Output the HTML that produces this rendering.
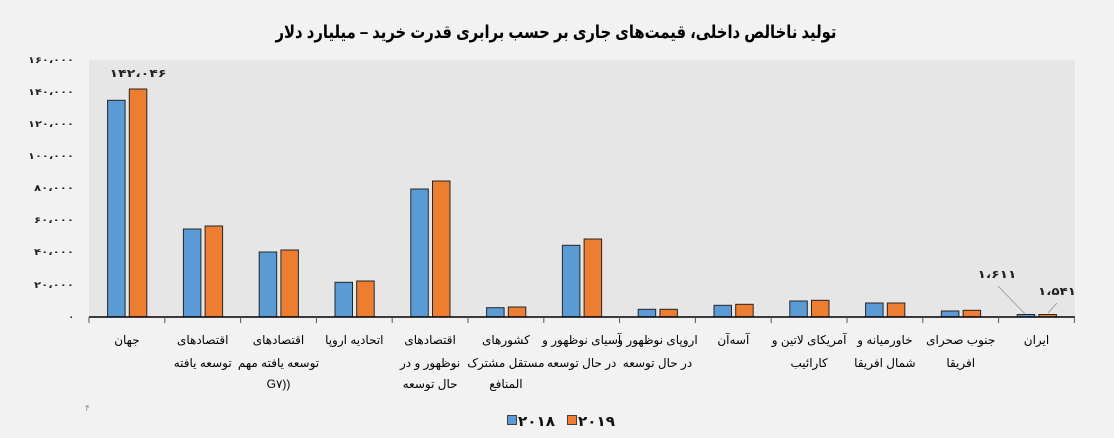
<!DOCTYPE html>
<html>
<head>
<meta charset="utf-8">
<style>
html,body{margin:0;padding:0;background:#f2f2f2;}
svg{display:block;}
text{font-family:"Liberation Sans","DejaVu Sans",sans-serif;}
.cat{font-size:12px;fill:#000;text-anchor:middle;}
.yl{font-size:9px;font-weight:bold;fill:#222;text-anchor:end;}
</style>
</head>
<body>
<svg width="1114" height="438" viewBox="0 0 1114 438" xmlns="http://www.w3.org/2000/svg">
<rect x="0" y="0" width="1114" height="438" fill="#f2f2f2"/>
<!-- title -->
<text x="556" y="38" text-anchor="middle" font-size="18" font-weight="bold" fill="#000" textLength="561" lengthAdjust="spacingAndGlyphs">تولید ناخالص داخلی، قیمت‌های جاری بر حسب برابری قدرت خرید – میلیارد دلار</text>
<!-- plot bg -->
<rect x="89" y="60" width="986" height="257" fill="#e7e6e6"/>
<!-- y labels -->
<g class="yl">
<text x="74" y="63" textLength="46" lengthAdjust="spacingAndGlyphs">۱۶۰،۰۰۰</text>
<text x="74" y="95" textLength="46" lengthAdjust="spacingAndGlyphs">۱۴۰،۰۰۰</text>
<text x="74" y="127" textLength="46" lengthAdjust="spacingAndGlyphs">۱۲۰،۰۰۰</text>
<text x="74" y="159" textLength="46" lengthAdjust="spacingAndGlyphs">۱۰۰،۰۰۰</text>
<text x="74" y="191" textLength="40" lengthAdjust="spacingAndGlyphs">۸۰،۰۰۰</text>
<text x="74" y="223" textLength="40" lengthAdjust="spacingAndGlyphs">۶۰،۰۰۰</text>
<text x="74" y="255" textLength="40" lengthAdjust="spacingAndGlyphs">۴۰،۰۰۰</text>
<text x="74" y="288" textLength="40" lengthAdjust="spacingAndGlyphs">۲۰،۰۰۰</text>
<text x="74" y="320">۰</text>
</g>
<!-- bars -->
<g stroke="#262626" stroke-width="1">
<rect x="107.6" y="100.3" width="17.5" height="216.7" fill="#5b9bd5"/>
<rect x="129.3" y="89" width="17.5" height="228" fill="#ed7d31"/>

<rect x="183.4" y="229" width="17.5" height="88" fill="#5b9bd5"/>
<rect x="205.1" y="226" width="17.5" height="91" fill="#ed7d31"/>

<rect x="259.2" y="252" width="17.5" height="65" fill="#5b9bd5"/>
<rect x="280.9" y="250" width="17.5" height="67" fill="#ed7d31"/>

<rect x="335" y="282.3" width="17.5" height="34.7" fill="#5b9bd5"/>
<rect x="356.7" y="281" width="17.5" height="36" fill="#ed7d31"/>

<rect x="410.8" y="189" width="17.5" height="128" fill="#5b9bd5"/>
<rect x="432.5" y="181" width="17.5" height="136" fill="#ed7d31"/>

<rect x="486.6" y="307.7" width="17.5" height="9.3" fill="#5b9bd5"/>
<rect x="508.3" y="307" width="17.5" height="10" fill="#ed7d31"/>

<rect x="562.4" y="245.3" width="17.5" height="71.7" fill="#5b9bd5"/>
<rect x="584.1" y="239" width="17.5" height="78" fill="#ed7d31"/>

<rect x="638.2" y="309.3" width="17.5" height="7.7" fill="#5b9bd5"/>
<rect x="659.9" y="309.3" width="17.5" height="7.7" fill="#ed7d31"/>

<rect x="714" y="305.3" width="17.5" height="11.7" fill="#5b9bd5"/>
<rect x="735.7" y="304.3" width="17.5" height="12.7" fill="#ed7d31"/>

<rect x="789.8" y="301" width="17.5" height="16" fill="#5b9bd5"/>
<rect x="811.5" y="300.3" width="17.5" height="16.7" fill="#ed7d31"/>

<rect x="865.6" y="303" width="17.5" height="14" fill="#5b9bd5"/>
<rect x="887.3" y="303" width="17.5" height="14" fill="#ed7d31"/>

<rect x="941.4" y="311" width="17.5" height="6" fill="#5b9bd5"/>
<rect x="963.1" y="310.3" width="17.5" height="6.7" fill="#ed7d31"/>

<rect x="1017.2" y="314.5" width="17.5" height="2.5" fill="#5b9bd5"/>
<rect x="1038.9" y="314.5" width="17.5" height="2.5" fill="#ed7d31"/>
</g>
<!-- axis -->
<line x1="89" y1="317" x2="1075" y2="317" stroke="#000" stroke-width="1.5"/>
<g stroke="#555" stroke-width="1">
<line x1="89" y1="317" x2="89" y2="323"/>
<line x1="164.8" y1="317" x2="164.8" y2="323"/>
<line x1="240.6" y1="317" x2="240.6" y2="323"/>
<line x1="316.4" y1="317" x2="316.4" y2="323"/>
<line x1="392.2" y1="317" x2="392.2" y2="323"/>
<line x1="468" y1="317" x2="468" y2="323"/>
<line x1="543.8" y1="317" x2="543.8" y2="323"/>
<line x1="619.6" y1="317" x2="619.6" y2="323"/>
<line x1="695.4" y1="317" x2="695.4" y2="323"/>
<line x1="771.2" y1="317" x2="771.2" y2="323"/>
<line x1="847" y1="317" x2="847" y2="323"/>
<line x1="922.8" y1="317" x2="922.8" y2="323"/>
<line x1="998.6" y1="317" x2="998.6" y2="323"/>
<line x1="1074.4" y1="317" x2="1074.4" y2="323"/>
</g>
<!-- data labels -->
<text x="138" y="77" text-anchor="middle" font-size="11" font-weight="bold" fill="#222" textLength="57" lengthAdjust="spacingAndGlyphs">۱۴۲،۰۴۶</text>
<line x1="998" y1="286" x2="1025" y2="314" stroke="#a6a6a6" stroke-width="1"/>
<line x1="1057" y1="303" x2="1048" y2="313" stroke="#a6a6a6" stroke-width="1"/>
<text x="997" y="278" text-anchor="middle" font-size="11" font-weight="bold" fill="#222" textLength="39" lengthAdjust="spacingAndGlyphs">۱،۶۱۱</text>
<text x="1057" y="295" text-anchor="middle" font-size="11" font-weight="bold" fill="#222" textLength="38" lengthAdjust="spacingAndGlyphs">۱،۵۴۱</text>
<!-- category labels -->
<g class="cat">
<text x="126.9" y="344">جهان</text>

<text x="202.7" y="344">اقتصادهای</text>
<text x="202.7" y="367">توسعه یافته</text>

<text x="278.5" y="344">اقتصادهای</text>
<text x="278.5" y="367">توسعه یافته مهم</text>
<text x="278.5" y="388" direction="ltr">G۷))</text>

<text x="354.3" y="344">اتحادیه اروپا</text>

<text x="430.1" y="344">اقتصادهای</text>
<text x="430.1" y="367">نوظهور و در</text>
<text x="430.1" y="388">حال توسعه</text>

<text x="505.9" y="344">کشورهای</text>
<text x="505.9" y="367">مستقل مشترک</text>
<text x="505.9" y="388">المنافع</text>

<text x="581.7" y="344">آسیای نوظهور و</text>
<text x="581.7" y="367">در حال توسعه</text>

<text x="657.5" y="344">اروپای نوظهور و</text>
<text x="657.5" y="367">در حال توسعه</text>

<text x="733.3" y="344">آسه‌آن</text>

<text x="809.1" y="344">آمریکای لاتین و</text>
<text x="809.1" y="367">کارائیب</text>

<text x="884.9" y="344">خاورمیانه و</text>
<text x="884.9" y="367">شمال افریقا</text>

<text x="960.7" y="344">جنوب صحرای</text>
<text x="960.7" y="367">افریقا</text>

<text x="1036.5" y="344">ایران</text>
</g>
<!-- page number -->
<text x="85" y="411" font-size="9" fill="#999">۴</text>
<!-- legend -->
<rect x="507.5" y="415.5" width="9" height="9" fill="#5b9bd5" stroke="#404040" stroke-width="1"/>
<text x="518" y="426" font-size="14" font-weight="bold" fill="#111" textLength="37" lengthAdjust="spacingAndGlyphs">۲۰۱۸</text>
<rect x="567.5" y="415.5" width="9" height="9" fill="#ed7d31" stroke="#404040" stroke-width="1"/>
<text x="578" y="426" font-size="14" font-weight="bold" fill="#111" textLength="37" lengthAdjust="spacingAndGlyphs">۲۰۱۹</text>
</svg>
</body>
</html>
